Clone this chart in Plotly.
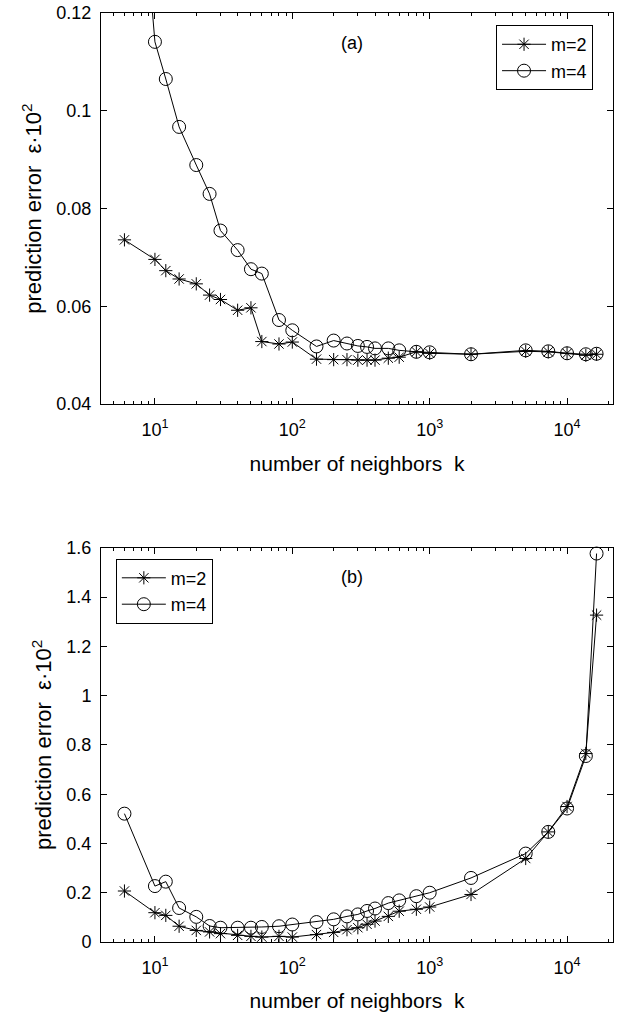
import plotly.graph_objects as go
import numpy as np

# number of neighbors k (shared by both panels)
k = [6, 10, 12, 15, 20, 25, 30, 40, 50, 60, 80, 100, 150, 200, 250, 300, 350,
     400, 500, 600, 800, 1000, 2000, 5000, 7300, 10000, 13700, 16400]

# panel (a): prediction error (x 10^2)
a_m2 = [0.0736, 0.0696, 0.0673, 0.0656, 0.0646, 0.0623, 0.0614, 0.0592, 0.0597,
        0.0528, 0.0523, 0.0527, 0.0492, 0.0491, 0.0491, 0.0490, 0.0490, 0.0490,
        0.0494, 0.0496, 0.0507, 0.0504, 0.0502, 0.0508, 0.0507, 0.0504, 0.0500,
        0.0502]
a_m4 = [0.1880, 0.1141, 0.1065, 0.0967, 0.0889, 0.0830, 0.0755, 0.0715, 0.0676,
        0.0667, 0.0572, 0.0551, 0.0518, 0.0530, 0.0524, 0.0519, 0.0517, 0.0514,
        0.0514, 0.0510, 0.0507, 0.0506, 0.0502, 0.0510, 0.0508, 0.0504, 0.0502,
        0.0503]

# panel (b): prediction error (x 10^2)
b_m2 = [0.207, 0.119, 0.108, 0.064, 0.047, 0.041, 0.034, 0.027, 0.023, 0.020,
        0.023, 0.020, 0.030, 0.039, 0.050, 0.058, 0.072, 0.085, 0.104, 0.125,
        0.133, 0.142, 0.193, 0.339, 0.447, 0.550, 0.765, 1.327]
b_m4 = [0.521, 0.227, 0.245, 0.138, 0.102, 0.065, 0.058, 0.058, 0.058, 0.061,
        0.064, 0.071, 0.081, 0.092, 0.104, 0.112, 0.126, 0.136, 0.158, 0.169,
        0.186, 0.200, 0.260, 0.359, 0.447, 0.542, 0.755, 1.577]

x_ticks = [10, 100, 1000, 10000]
x_ticktext = ["10<sup>1</sup>", "10<sup>2</sup>", "10<sup>3</sup>", "10<sup>4</sup>"]
a_yticks = [0.04, 0.06, 0.08, 0.1, 0.12]
b_yticks = [0, 0.2, 0.4, 0.6, 0.8, 1, 1.2, 1.4, 1.6]

FONT = "Liberation Sans, Arial, sans-serif"
minor_vals = [m * 10 ** d for d in range(0, 5) for m in range(2, 10)]
minor_vals = [v for v in minor_vals if 4 <= v <= 21600]

fig = go.Figure()

def add_series(xa, ya, y2, y4, legend, clip4=True):
    fig.add_trace(go.Scatter(
        x=k, y=y2, name="m=2", mode="lines+markers", xaxis=xa, yaxis=ya,
        legend=legend,
        line=dict(color="black", width=1),
        marker=dict(symbol="asterisk-open", size=11, color="black",
                    line=dict(color="black", width=1))))
    fig.add_trace(go.Scatter(
        x=k, y=y4, name="m=4", mode="lines+markers", xaxis=xa, yaxis=ya,
        legend=legend, cliponaxis=clip4,
        line=dict(color="black", width=1),
        marker=dict(symbol="circle-open", size=13, color="black",
                    line=dict(color="black", width=1))))

add_series("x", "y", a_m2, a_m4, "legend")
add_series("x2", "y2", b_m2, b_m4, "legend2", clip4=False)

xrange = [np.log10(4.05), np.log10(21600)]

def xaxis_style(anchor):
    return dict(
        type="log", range=xrange, domain=[0, 1], anchor=anchor,
        automargin=False,
        tickvals=x_ticks, ticktext=x_ticktext,
        ticks="inside", ticklen=6, tickwidth=1, tickcolor="black",
        ticklabelstandoff=9,
        minor=dict(tickvals=minor_vals, ticks="inside", ticklen=3,
                   tickwidth=1, tickcolor="black", showgrid=False),
        showline=True, linecolor="black", linewidth=1, mirror="allticks",
        showgrid=False, zeroline=False,
        tickfont=dict(family=FONT, size=18, color="black"),
        title=dict(text="number of neighbors\u00a0\u00a0k", standoff=17,
                   font=dict(family=FONT, size=21, color="black")),
    )

def yaxis_style(domain, anchor, rng, ticks):
    return dict(
        range=rng, domain=domain, anchor=anchor, tickvals=ticks,
        automargin=False,
        ticks="inside", ticklen=6, tickwidth=1, tickcolor="black",
        ticklabelstandoff=5,
        showline=True, linecolor="black", linewidth=1, mirror="allticks",
        showgrid=False, zeroline=False,
        tickfont=dict(family=FONT, size=18, color="black"),
        title=dict(text="prediction error\u00a0\u00a0\u03b5\u00b710<sup>2</sup>",
                   standoff=8,
                   font=dict(family=FONT, size=22, color="black")),
    )

H_PLOT = 1012 - 13 - 70.3
top_dom = [(941.7 - 404) / H_PLOT, 1.0]
bot_dom = [0.0, (941.7 - 547.7) / H_PLOT]

legend_style = dict(
    bgcolor="white", bordercolor="black", borderwidth=1,
    font=dict(family=FONT, size=18, color="black"),
    tracegroupgap=0, itemwidth=44,
)

fig.update_layout(
    width=617, height=1012,
    margin=dict(l=101, r=4, t=13, b=70.3, autoexpand=False),
    paper_bgcolor="white", plot_bgcolor="white",
    font=dict(family=FONT, color="black"),
    xaxis=xaxis_style("y"),
    yaxis=yaxis_style(top_dom, "x", [0.04, 0.12], a_yticks),
    xaxis2=xaxis_style("y2"),
    yaxis2=yaxis_style(bot_dom, "x2", [0, 1.6], b_yticks),
    legend=dict(x=0.961, y=0.987, xanchor="right", yanchor="top", **legend_style),
    legend2=dict(x=0.029, y=0.4127, xanchor="left", yanchor="top", **legend_style),
    showlegend=True,
    annotations=[
        dict(text="(a)", x=0.49, y=0.981, xref="paper", yref="paper",
             showarrow=False, font=dict(family=FONT, size=18, color="black")),
        dict(text="(b)", x=0.49, y=0.393, xref="paper", yref="paper",
             showarrow=False, font=dict(family=FONT, size=18, color="black")),
    ],
)

fig.write_html("out.html")
